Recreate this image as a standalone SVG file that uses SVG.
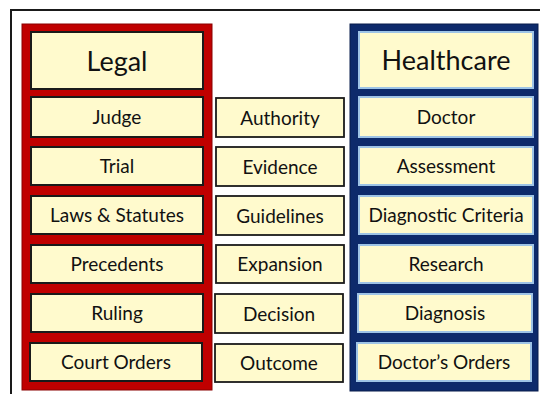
<svg xmlns="http://www.w3.org/2000/svg" width="540" height="394" viewBox="0 0 540 394">
<style>
.bg{fill:#ffffff}
.frame{fill:none;stroke:#1a1a1a;stroke-width:2}
.redp{fill:#c00000;stroke:#8a0000;stroke-width:1}
.bluep{fill:#0d2a6b;stroke:#081d4d;stroke-width:1}
.rb{fill:#fffacd;stroke:#1a1a1a;stroke-width:2}
.bb{fill:#fffacd;stroke:#9dc3e6;stroke-width:2}
.mb{fill:#fffacd;stroke:#1a1a1a;stroke-width:1.8}
text{font-family:Lato,"Open Sans",sans-serif;fill:#111111;text-anchor:middle}
.h{font-size:27px}
.t{font-size:19px}
</style>
<rect class="bg" x="0" y="0" width="540" height="394"/>
<path class="frame" d="M11,394 V10 H540"/>

<g id="legal-panel">
<rect class="redp" x="22" y="24" width="190" height="366"/>
</g>
<g id="healthcare-panel">
<rect class="bluep" x="350" y="24" width="188" height="367"/>
</g>

<g id="legal"><rect class="rb" x="31" y="32" width="172" height="57"/><text class="h" x="117" y="70.5">Legal</text></g>
<g id="judge"><rect class="rb" x="31" y="97" width="172" height="40"/><text class="t" x="117" y="124">Judge</text></g>
<g id="trial"><rect class="rb" x="31" y="147" width="172" height="38"/><text class="t" x="117" y="173">Trial</text></g>
<g id="laws-statutes"><rect class="rb" x="31" y="196" width="172" height="38"/><text class="t" x="117" y="222">Laws &amp; Statutes</text></g>
<g id="precedents"><rect class="rb" x="31" y="245" width="172" height="38"/><text class="t" x="117" y="271">Precedents</text></g>
<g id="ruling"><rect class="rb" x="31" y="294" width="172" height="38"/><text class="t" x="117" y="320">Ruling</text></g>
<g id="court-orders"><rect class="rb" x="30" y="343" width="172" height="38"/><text class="t" x="116" y="369">Court Orders</text></g>

<g id="authority"><rect class="mb" x="216" y="98" width="128" height="39"/><text class="t" x="280" y="124.5">Authority</text></g>
<g id="evidence"><rect class="mb" x="216" y="147" width="128" height="39"/><text class="t" x="280" y="173.5">Evidence</text></g>
<g id="guidelines"><rect class="mb" x="216" y="196" width="128" height="39"/><text class="t" x="280" y="222.5">Guidelines</text></g>
<g id="expansion"><rect class="mb" x="216" y="245" width="128" height="38"/><text class="t" x="280" y="271">Expansion</text></g>
<g id="decision"><rect class="mb" x="215" y="294" width="128" height="39"/><text class="t" x="279" y="320.5">Decision</text></g>
<g id="outcome"><rect class="mb" x="215" y="344" width="128" height="38"/><text class="t" x="279" y="370">Outcome</text></g>

<g id="healthcare"><rect class="bb" x="359" y="32" width="174" height="56"/><text class="h" x="446" y="70">Healthcare</text></g>
<g id="doctor"><rect class="bb" x="359" y="97" width="174" height="40"/><text class="t" x="446" y="124">Doctor</text></g>
<g id="assessment"><rect class="bb" x="359" y="147" width="174" height="38"/><text class="t" x="446" y="173">Assessment</text></g>
<g id="diagnostic-criteria"><rect class="bb" x="359" y="196" width="174" height="38"/><text class="t" x="446" y="222">Diagnostic Criteria</text></g>
<g id="research"><rect class="bb" x="359" y="245" width="174" height="38"/><text class="t" x="446" y="271">Research</text></g>
<g id="diagnosis"><rect class="bb" x="358" y="294" width="174" height="38"/><text class="t" x="445" y="320">Diagnosis</text></g>
<g id="doctors-orders"><rect class="bb" x="357" y="343" width="174" height="38"/><text class="t" x="444" y="369">Doctor’s Orders</text></g>

<g id="connectors"></g>
</svg>
